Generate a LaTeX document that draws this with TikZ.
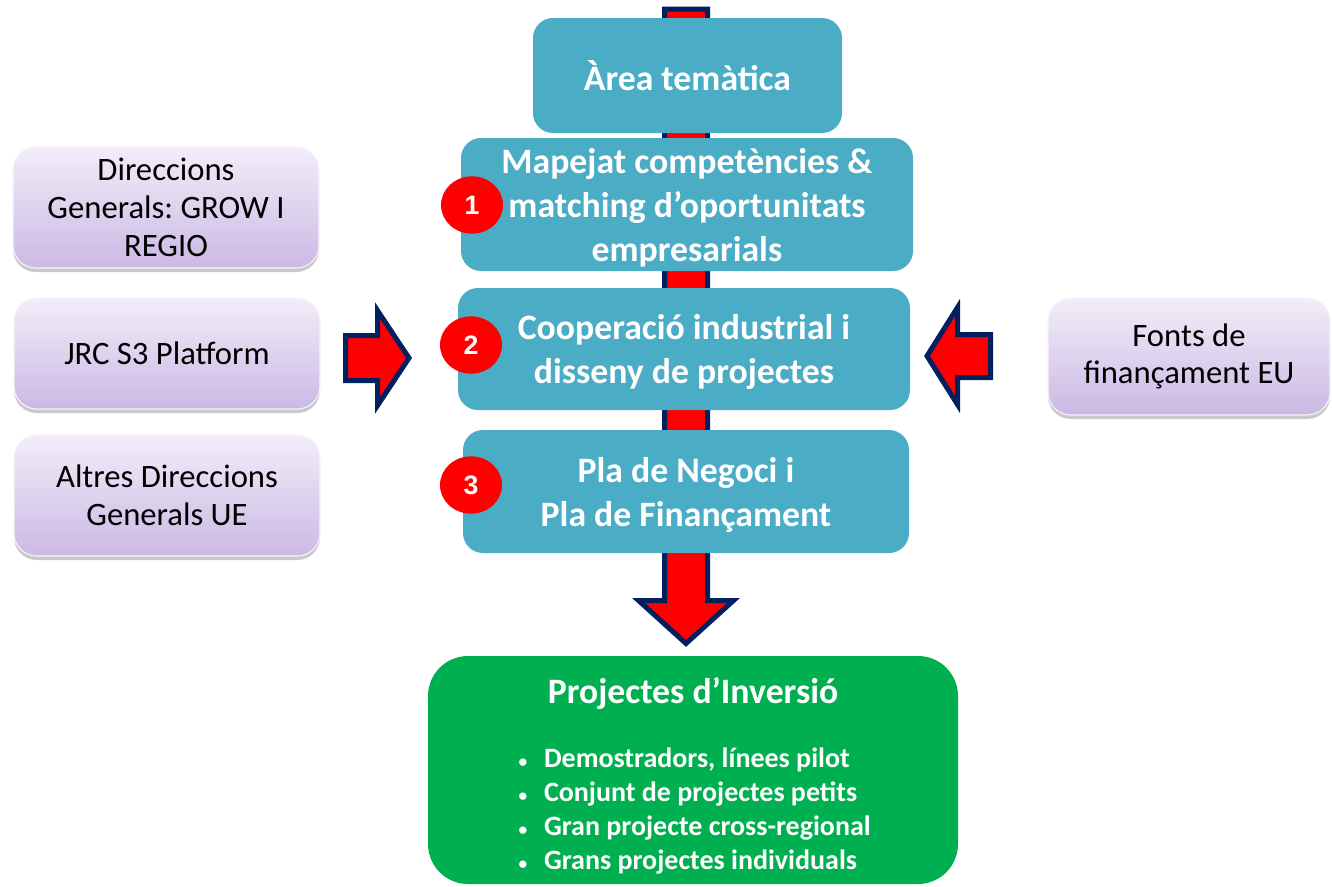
\documentclass[tikz,border=0pt]{standalone}
\usepackage{fontspec}
\setmainfont{Carlito}
\newfontfamily\numfont{Liberation Sans}
\usetikzlibrary{shapes.geometric,shadows}
\definecolor{tealfill}{RGB}{75,172,198}
\definecolor{invgreen}{RGB}{0,176,80}
\definecolor{arrownavy}{RGB}{0,32,96}
\definecolor{lavtop}{RGB}{242,237,249}
\definecolor{lavbot}{RGB}{203,185,228}
\frenchspacing
\newcommand{\blt}{\makebox[19pt][l]{\fontsize{13}{13}\selectfont•}}
\begin{document}
\begin{tikzpicture}[x=0.75pt,y=0.75pt,yscale=-1,xscale=1,
  stepbox/.style={fill=tealfill,rounded corners=15pt,inner sep=0pt},
  steptext/.style={text=white,align=center,inner sep=0pt,font=\fontsize{26.8}{33}\selectfont\bfseries},
  sidebox/.style={rounded corners=17pt,top color=lavtop,bottom color=lavbot,draw=white!85!lavbot,line width=0.8pt,
    drop shadow={shadow xshift=0pt,shadow yshift=-3pt,opacity=.3,fill=black!70},
    align=center,inner sep=0pt,font=\fontsize{24.5}{28.3}\selectfont},
  numdot/.style={ellipse,fill=red,text=white,minimum width=46.5pt,minimum height=43pt,inner sep=0pt,
    font=\numfont\bfseries\fontsize{20}{22}\selectfont},
  blockarrow/.style={draw=arrownavy,fill=red,line width=3.75pt,line join=miter}]
\useasboundingbox (0,0) rectangle (1332,886);

%Block Arrow down, behind the steps
\draw [blockarrow] (664.5,9) -- (707.5,9) -- (707.5,600.5) -- (733.5,600.5) -- (686,643.5) -- (638.5,600.5) -- (664.5,600.5) -- cycle ;
%Block Arrow right
\draw [blockarrow] (345.5,335.5) -- (377.5,335.5) -- (377.5,310.5) -- (409,358) -- (377.5,405.5) -- (377.5,380.5) -- (345.5,380.5) -- cycle ;
%Block Arrow left
\draw [blockarrow] (990.5,334.5) -- (957.5,334.5) -- (957.5,307.5) -- (927,356) -- (957.5,404.5) -- (957.5,377.5) -- (990.5,377.5) -- cycle ;

%Steps
\draw (687.5,75.5) node (area) [stepbox,minimum width=231.75pt,minimum height=86.25pt] {};
\draw (687,204.5) node (mapeig) [stepbox,minimum width=339pt,minimum height=99.75pt] {};
\draw (684,349) node (cooperacio) [stepbox,minimum width=339pt,minimum height=91.5pt] {};
\draw (686,491.5) node (pla) [stepbox,minimum width=334.5pt,minimum height=92.25pt] {};
% Text Node
\draw (687.5,76) node (areatxt) [steptext] {Àrea temàtica};
% Text Node
\draw (687,207.5) node (mapeigtxt) [steptext] {Mapejat competències \&\\matching d’oportunitats\\empresarials};
% Text Node
\draw (684,352) node (cooperaciotxt) [steptext] {Cooperació industrial i\\disseny de projectes};
% Text Node
\draw (686,494.5) node (platxt) [steptext] {Pla de Negoci i\\Pla de Finançament};

%Numbers
\draw (472,205) node (n1) [numdot] {1};
\draw (471,345) node (n2) [numdot] {2};
\draw (471,485) node (n3) [numdot] {3};

%Side boxes
\draw (166,207.5) node (dg) [sidebox,minimum width=229.5pt,minimum height=90.75pt] {Direccions\\Generals: GROW I\\REGIO};
\draw (167,353.5) node (jrc) [sidebox,minimum width=229.5pt,minimum height=83.25pt] {JRC S3 Platform};
\draw (167,495.5) node (altres) [sidebox,minimum width=229.5pt,minimum height=90.75pt] {Altres Direccions\\Generals UE};
\draw (1189,356.5) node (fonts) [sidebox,minimum width=211.5pt,minimum height=87.75pt] {Fonts de\\finançament EU};

%Result
\draw (693,770) node (inversio) [fill=invgreen,rounded corners=30pt,minimum width=397.5pt,minimum height=171pt] {};
% Text Node
\draw (693,694) node (titol) [text=white,font=\fontsize{26.8}{30}\selectfont\bfseries] {Projectes d’Inversió};
% Text Node
\draw (514,811.5) node (llista) [anchor=west,align=left,text=white,font=\fontsize{21}{25.5}\selectfont\bfseries]
  {\blt Demostradors, línees pilot\\\blt Conjunt de projectes petits\\\blt Gran projecte cross-regional\\\blt Grans projectes individuals};

\end{tikzpicture}
\end{document}
